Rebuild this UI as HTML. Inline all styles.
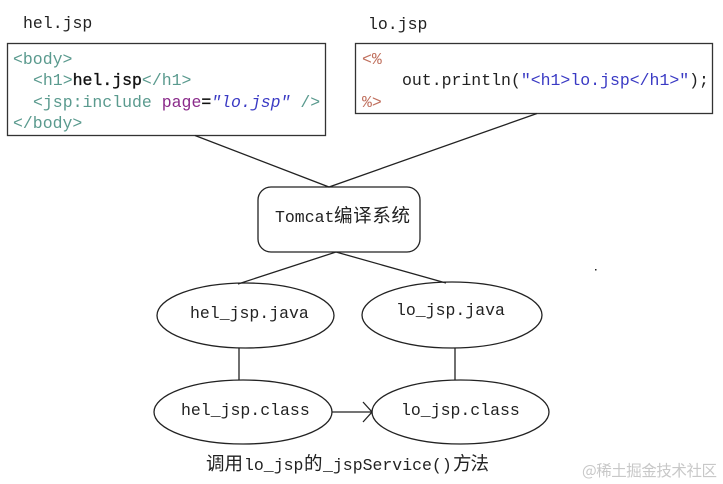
<!DOCTYPE html>
<html><head><meta charset="utf-8"><style>
html,body{margin:0;padding:0;background:#fff;width:723px;height:484px;overflow:hidden}
svg{display:block;filter:blur(.3px)}
text{white-space:pre}
.m{font-family:"Liberation Mono","WenQuanYi Zen Hei",monospace;font-size:16.5px;fill:#222}
.c{font-family:"WenQuanYi Zen Hei","Noto Sans CJK SC",sans-serif;font-size:18.5px;fill:#222}
.g{fill:#5a9a8e}.k{fill:#111;stroke:#111;stroke-width:.35px}.p{fill:#8a2a8a}.b{fill:#3a3ac4}.r{fill:#c0705e}
</style></head><body>
<svg width="723" height="484" viewBox="0 0 723 484" xmlns="http://www.w3.org/2000/svg">
<rect width="723" height="484" fill="#fff"/>
<g fill="#fff" stroke="#222" stroke-width="1.3">
<rect x="7.5" y="43.5" width="318" height="92" stroke="#333"/>
<rect x="355.5" y="43.5" width="357" height="70" stroke="#333"/>
<rect x="258" y="187" width="162" height="65" rx="13"/>
<ellipse cx="245.500" cy="315.500" rx="88.500" ry="32.500"/>
<ellipse cx="452" cy="315" rx="90" ry="33"/>
<ellipse cx="243" cy="412" rx="89" ry="32"/>
<ellipse cx="460.500" cy="412" rx="88.500" ry="32"/>
</g>
<g fill="none" stroke="#222" stroke-width="1.3">
<path d="M195 135.500 329 187 537 113.500"/>
<path d="M238 284 336 252 446 283"/>
<path d="M239 348V380M455 348V380"/>
<path d="M332 412H372M363 402 372 412 363 422"/>
</g>
<rect x="595" y="269" width="1.500" height="1.500" fill="#222"/>

<text class="m" x="23" y="28">hel.jsp</text>
<text class="m" x="368" y="29">lo.jsp</text>

<text class="m g" x="13" y="64">&lt;body&gt;</text>
<text class="m" x="33" y="85"><tspan class="g">&lt;h1&gt;</tspan><tspan class="k">hel.jsp</tspan><tspan class="g">&lt;/h1&gt;</tspan></text>
<text class="m" x="33" y="107"><tspan class="g">&lt;jsp:include </tspan><tspan class="p">page</tspan><tspan class="k">=</tspan><tspan class="b" font-style="italic">"lo.jsp"</tspan><tspan class="g"> /&gt;</tspan></text>
<text class="m g" x="13" y="128">&lt;/body&gt;</text>

<text class="m r" x="362" y="64">&lt;%</text>
<text class="m" x="402" y="85">out.println(<tspan class="b">"&lt;h1&gt;lo.jsp&lt;/h1&gt;"</tspan>);</text>
<text class="m r" x="362" y="107">%&gt;</text>

<text class="m" x="275" y="222">Tomcat</text>
<text class="c" x="334" y="222" textLength="76">编译系统</text>
<text class="m" x="190" y="318">hel_jsp.java</text>
<text class="m" x="396" y="315">lo_jsp.java</text>
<text class="m" x="181" y="415">hel_jsp.class</text>
<text class="m" x="401" y="415">lo_jsp.class</text>

<text class="c" x="206" y="470" textLength="37">调用</text>
<text class="m" x="244" y="470">lo_jsp</text>
<text class="c" x="304" y="470">的</text>
<text class="m" x="323" y="470">_jspService()</text>
<text class="c" x="453" y="470" textLength="36">方法</text>

<text x="582" y="476" font-family="'Noto Sans CJK SC',sans-serif" font-size="15.500" fill="#c8c8c8" textLength="135">@稀土掘金技术社区</text>
</svg>
</body></html>
